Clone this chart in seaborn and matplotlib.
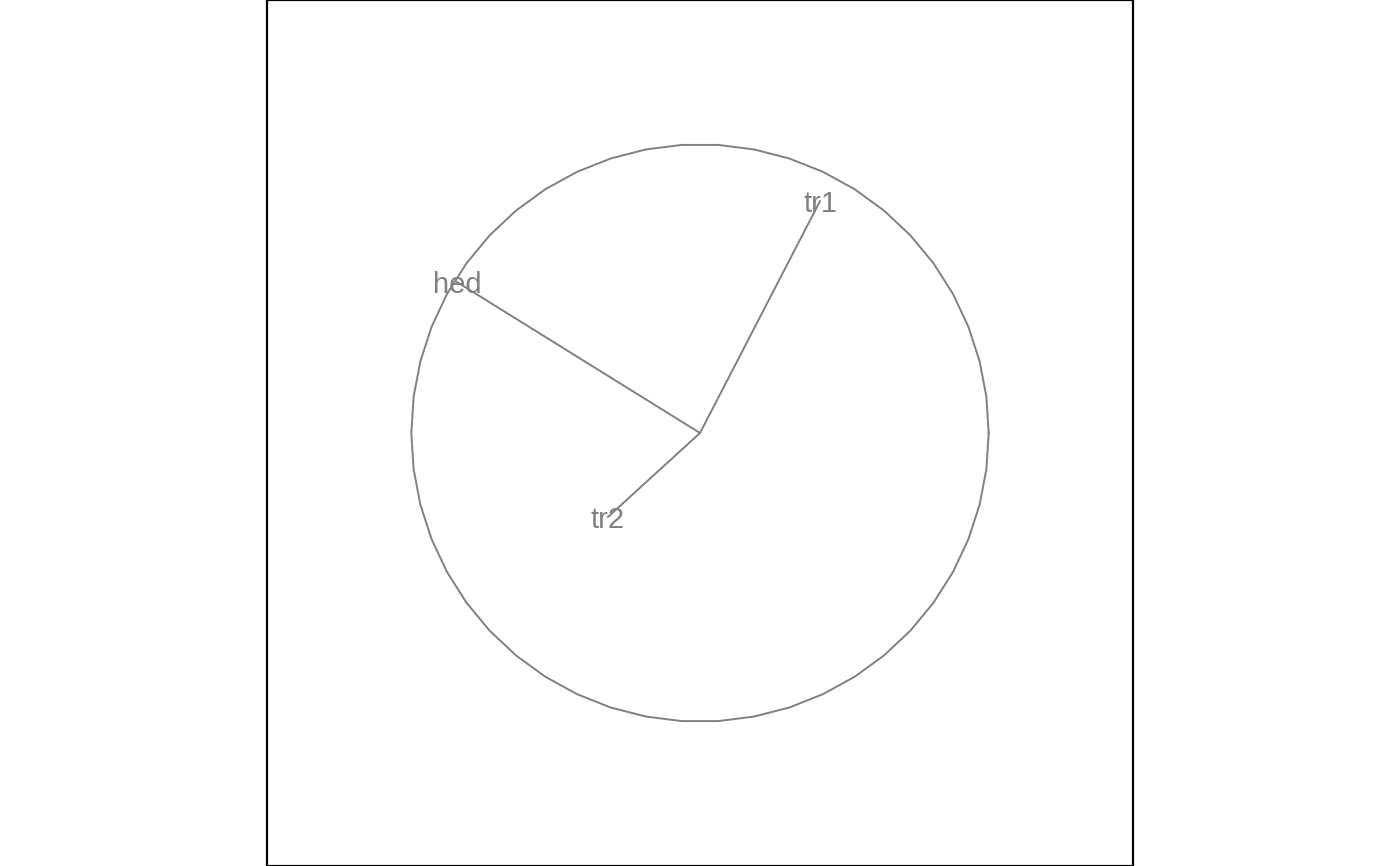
import numpy as np
import pandas as pd
import matplotlib
matplotlib.use("Agg")
import matplotlib.pyplot as plt
import seaborn as sns

# Data: vector endpoints (correlation circle)
labels = ["tr1", "hed", "tr2"]
vec_x = [0.416, -0.842, -0.319]
vec_y = [0.804, 0.523, -0.291]

# unit circle drawn as 50-segment polygon
n_seg = 50
theta = np.linspace(0, 2 * np.pi, n_seg + 1)
circ_x = np.cos(theta)
circ_y = np.sin(theta)

sns.set_theme(style="white")
plt.rcParams['font.family'] = ['Liberation Sans', 'DejaVu Sans']

fig = plt.figure(figsize=(14, 8.66), dpi=100)
ax = fig.add_axes([267 / 1400, 0, 866 / 1400, 1])

gray = "#808080"
circ_df = pd.DataFrame({"x": circ_x, "y": circ_y, "i": np.arange(len(circ_x))})
sns.lineplot(data=circ_df, x="x", y="y", sort=False, estimator=None,
             color=gray, linewidth=1.4, ax=ax)

for lab, vx, vy in zip(labels, vec_x, vec_y):
    df = pd.DataFrame({"x": [0.0, vx], "y": [0.0, vy]})
    sns.lineplot(data=df, x="x", y="y", sort=False, estimator=None,
                 color=gray, linewidth=1.4, ax=ax)
    ax.text(vx, vy, lab, color=gray, fontsize=21, ha="center",
            va="center_baseline")

ax.set_xlim(-1.5, 1.5)
ax.set_ylim(-1.5, 1.5)
ax.set_xticks([])
ax.set_yticks([])
ax.set_xlabel("")
ax.set_ylabel("")
for s in ax.spines.values():
    s.set_visible(True)
    s.set_color("black")
    s.set_linewidth(1.6)

fig.savefig("out.png", dpi=100)
